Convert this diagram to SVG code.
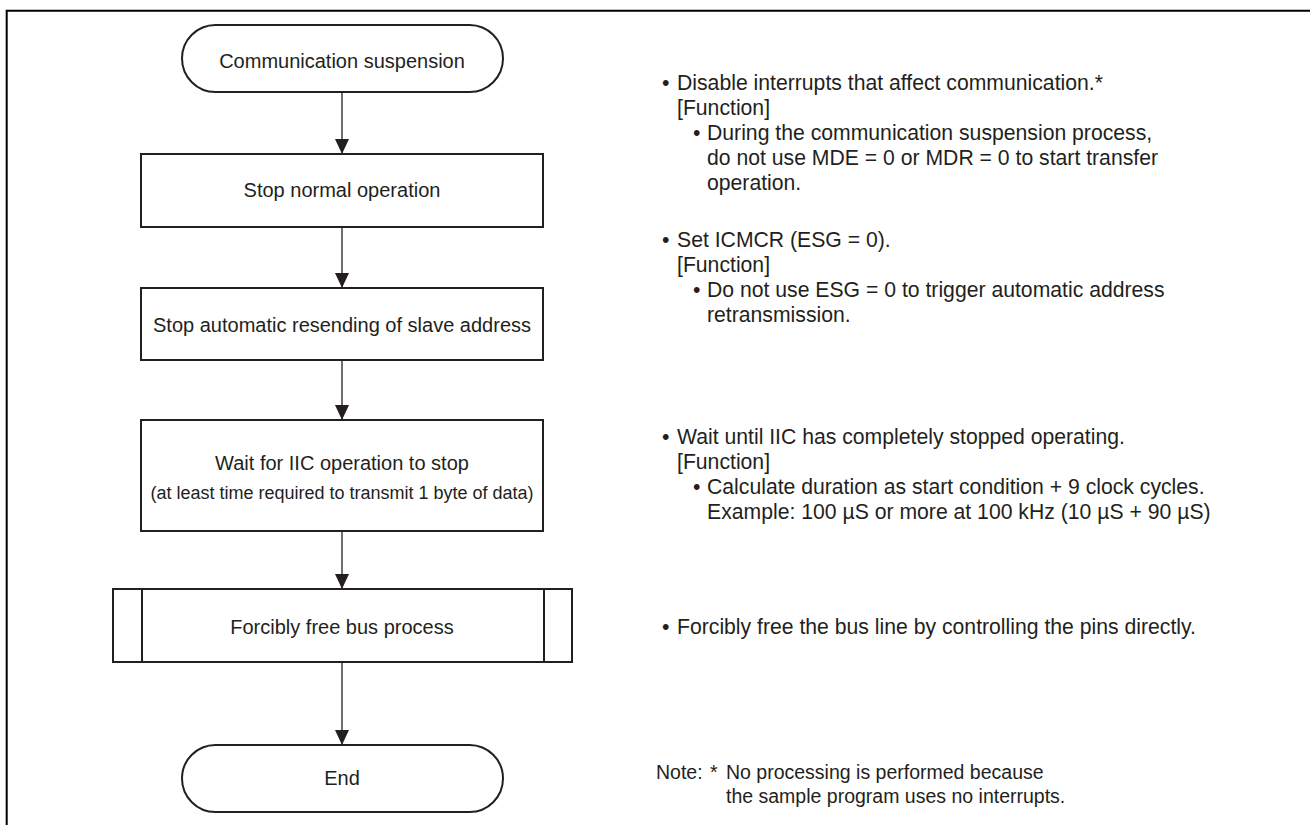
<svg xmlns="http://www.w3.org/2000/svg" width="1310" height="825" viewBox="0 0 1310 825">
  <defs>
    <style>
      .shape { fill: #ffffff; stroke: #231f20; stroke-width: 2; }
      .frame { fill: none; stroke: #000000; stroke-width: 2; }
      .wire { fill: none; stroke: #231f20; stroke-width: 1.3; }
      .label { font-family: "Liberation Sans", Arial, sans-serif; font-size: 20px; fill: #231f20; }
      .small { font-size: 18px; }
      .note { font-size: 21.2px; }
      .foot { font-size: 19.5px; }
      .mid { text-anchor: middle; }
    </style>
    <marker id="arrow" viewBox="0 0 15 14" refX="15" refY="7" markerWidth="15" markerHeight="14" markerUnits="userSpaceOnUse" orient="auto">
      <path d="M0,0 L15,7 L0,14 Z" fill="#231f20"/>
    </marker>
  </defs>

  <!-- outer frame (open on right and bottom) -->
  <path class="frame" d="M6.7,825 V10.7 H1310"/>

  <!-- connectors -->
  <g id="connectors">
    <line class="wire" x1="342" y1="92" x2="342" y2="154" marker-end="url(#arrow)"/>
    <line class="wire" x1="342" y1="227" x2="342" y2="288" marker-end="url(#arrow)"/>
    <line class="wire" x1="342" y1="360" x2="342" y2="420" marker-end="url(#arrow)"/>
    <line class="wire" x1="342" y1="531" x2="342" y2="589" marker-end="url(#arrow)"/>
    <line class="wire" x1="342" y1="662" x2="342" y2="745" marker-end="url(#arrow)"/>
  </g>

  <g id="start">
    <rect class="shape" x="182" y="25" width="321" height="67" rx="33.5" ry="33.5"/>
    <text class="label mid" x="342" y="68">Communication suspension</text>
  </g>

  <g id="stop-normal">
    <rect class="shape" x="141" y="154" width="402" height="73"/>
    <text class="label mid" x="342" y="197">Stop normal operation</text>
  </g>

  <g id="stop-resend">
    <rect class="shape" x="141" y="288" width="402" height="72"/>
    <text class="label mid" x="342" y="332">Stop automatic resending of slave address</text>
  </g>

  <g id="wait-stop">
    <rect class="shape" x="141" y="420" width="402" height="111"/>
    <text class="label mid" x="342" y="470">Wait for IIC operation to stop</text>
    <text class="label small mid" x="342" y="499">(at least time required to transmit 1 byte of data)</text>
  </g>

  <g id="free-bus">
    <rect class="shape" x="113" y="589" width="459" height="73"/>
    <line class="shape" x1="142" y1="589" x2="142" y2="662"/>
    <line class="shape" x1="544" y1="589" x2="544" y2="662"/>
    <text class="label mid" x="342" y="634">Forcibly free bus process</text>
  </g>

  <g id="end">
    <rect class="shape" x="182" y="745" width="321" height="67" rx="33.5" ry="33.5"/>
    <text class="label mid" x="342" y="785">End</text>
  </g>

  <!-- explanatory notes -->
  <g id="notes" class="label note">
    <text x="662" y="90">•</text><text x="677" y="90">Disable interrupts that affect communication.*</text>
    <text x="677" y="115">[Function]</text>
    <text x="693" y="140">•</text><text x="707" y="140">During the communication suspension process,</text>
    <text x="707" y="165">do not use MDE = 0 or MDR = 0 to start transfer</text>
    <text x="707" y="190">operation.</text>

    <text x="662" y="247">•</text><text x="677" y="247">Set ICMCR (ESG = 0).</text>
    <text x="677" y="272">[Function]</text>
    <text x="693" y="297">•</text><text x="707" y="297">Do not use ESG = 0 to trigger automatic address</text>
    <text x="707" y="322">retransmission.</text>

    <text x="662" y="444">•</text><text x="677" y="444">Wait until IIC has completely stopped operating.</text>
    <text x="677" y="469">[Function]</text>
    <text x="693" y="494">•</text><text x="707" y="494">Calculate duration as start condition + 9 clock cycles.</text>
    <text x="707" y="519">Example: 100 µS or more at 100 kHz (10 µS + 90 µS)</text>

    <text x="662" y="634">•</text><text x="677" y="634">Forcibly free the bus line by controlling the pins directly.</text>
  </g>

  <g id="footnote" class="label foot">
    <text x="656" y="779">Note:</text><text x="710" y="779">*</text><text x="726" y="779">No processing is performed because</text>
    <text x="726" y="803">the sample program uses no interrupts.</text>
  </g>
</svg>
